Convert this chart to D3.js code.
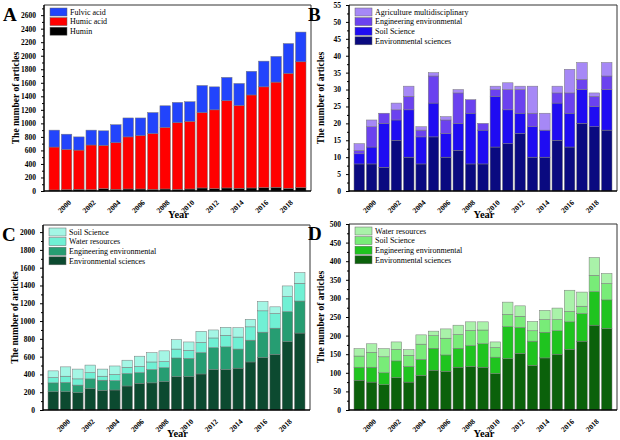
<!DOCTYPE html>
<html>
<head>
<meta charset="utf-8">
<script src="https://cdn.jsdelivr.net/npm/d3@7/dist/d3.min.js"></script>
<style>
body { margin: 0; background: #fff; }
svg { display: block; }
text { font-family: "Liberation Serif", "Times New Roman", serif; }
</style>
</head>
<body>
<svg width="620" height="440"></svg>
<script>
// years on the x axis, every other one labelled
var years = [1999, 2000, 2001, 2002, 2003, 2004, 2005, 2006, 2007, 2008, 2009,
             2010, 2011, 2012, 2013, 2014, 2015, 2016, 2017, 2018, 2019];
var yearLabels = [2000, 2002, 2004, 2006, 2008, 2010, 2012, 2014, 2016, 2018];

// A - humic substances
var huminA  = [15, 20, 25, 20, 35, 25, 30, 30, 25, 30, 25, 30, 45, 35, 45, 40, 45, 50, 55, 40, 50];
var humicA  = [635, 595, 580, 660, 640, 690, 770, 790, 825, 910, 985, 1000, 1115, 1165, 1290, 1225, 1375, 1490, 1555, 1700, 1860];
var fulvicA = [250, 225, 195, 220, 215, 265, 280, 260, 310, 320, 300, 290, 400, 340, 345, 325, 350, 380, 380, 440, 440];

// B
var envB  = [8, 8, 7, 15, 10, 8, 16, 10, 12, 8, 8, 13, 14, 17, 10, 10, 15, 13, 20, 19, 18];
var soilB = [3, 5, 13, 6, 14, 8, 10, 7, 8, 15, 10, 15, 10, 6, 9, 8, 11, 10, 10, 6, 12];
var engB  = [1, 6, 3, 3, 4, 2, 8, 4, 9, 4, 2, 2, 6, 7, 4, 0, 3, 6, 3, 3, 4];
var agriB = [2, 2, 0, 2, 3, 1, 1, 1, 1, 0, 0, 1, 2, 1, 8, 5, 2, 7, 5, 1, 4];

// C
var envC   = [205, 205, 195, 240, 220, 225, 270, 300, 305, 320, 375, 375, 405, 455, 455, 470, 540, 590, 625, 770, 865];
var engC   = [100, 105, 85, 110, 115, 105, 140, 120, 150, 155, 210, 205, 240, 245, 255, 215, 245, 285, 295, 335, 360];
var waterC = [60, 70, 70, 70, 45, 70, 70, 70, 85, 70, 100, 90, 115, 110, 130, 135, 150, 240, 165, 170, 200];
var soilC  = [75, 105, 110, 85, 80, 95, 80, 115, 105, 120, 105, 95, 125, 90, 90, 105, 85, 105, 75, 120, 120];

// D
var envD   = [80, 75, 68, 87, 75, 93, 107, 104, 115, 117, 115, 98, 138, 152, 120, 140, 150, 163, 185, 228, 219];
var engD   = [35, 40, 32, 45, 42, 43, 59, 44, 51, 56, 63, 44, 86, 70, 65, 69, 63, 74, 74, 90, 77];
var soilD  = [30, 40, 43, 31, 30, 41, 34, 45, 37, 41, 37, 26, 33, 30, 28, 34, 30, 28, 20, 44, 44];
var waterD = [20, 23, 22, 20, 15, 25, 12, 25, 25, 23, 22, 15, 33, 28, 25, 25, 31, 57, 38, 48, 27];

var svg = d3.select("svg");

function drawPanel(p) {
    var g = svg.append("g");

    var x = d3.scaleBand()
        .domain(years)
        .range([p.x0 + 5, p.x1 - 5])
        .paddingInner(0.15);

    var y = d3.scaleLinear()
        .domain([0, p.max])
        .range([p.y1, p.y0]);

    var keys = p.series.map(s => s.name);
    var rows = years.map(function (yr, i) {
        var r = { year: yr };
        p.series.forEach(s => r[s.name] = s.values[i]);
        return r;
    });
    var stacked = d3.stack().keys(keys)(rows);

    g.selectAll(".layer")
        .data(stacked)
        .enter().append("g")
        .attr("fill", (d, i) => p.series[i].color)
      .selectAll("rect")
        .data(d => d)
        .enter().append("rect")
        .attr("x", d => x(d.data.year))
        .attr("y", d => y(d[1]))
        .attr("width", x.bandwidth())
        .attr("height", d => y(d[0]) - y(d[1]))
        .attr("stroke", "#777")
        .attr("stroke-width", 0.5);

    // frame top/right
    g.append("path")
        .attr("d", "M" + p.x0 + "," + p.y0 + "H" + p.x1 + "V" + p.y1)
        .attr("fill", "none")
        .attr("stroke", "#333")
        .attr("stroke-width", 1);

    // y axis, major + minor ticks
    var major = d3.range(0, p.max + 0.001, p.step);
    var minor = d3.range(p.step / 2, p.max, p.step);

    var ax = g.append("g")
        .attr("transform", "translate(" + p.x0 + ",0)")
        .call(d3.axisLeft(y).tickValues(major).tickFormat(d3.format("d"))
            .tickSize(3).tickPadding(5).tickSizeOuter(0));
    ax.select(".domain").remove();
    ax.selectAll("text")
        .attr("font-family", "Liberation Serif, serif")
        .attr("font-weight", "bold")
        .attr("font-size", 7.5)
        .attr("fill", "#000");
    ax.selectAll("line").attr("stroke-width", 1);

    g.append("g")
        .attr("transform", "translate(" + p.x0 + ",0)")
        .call(d3.axisLeft(y).tickValues(minor).tickSize(2).tickFormat(""))
        .select(".domain").remove();

    g.append("line")
        .attr("x1", p.x0).attr("x2", p.x0)
        .attr("y1", p.y0).attr("y2", p.y1 + 0.75)
        .attr("stroke", "#000").attr("stroke-width", 1.5);
    g.append("line")
        .attr("x1", p.x0).attr("x2", p.x1)
        .attr("y1", p.y1).attr("y2", p.y1)
        .attr("stroke", "#000").attr("stroke-width", 1.5);

    // rotated year labels
    g.selectAll(".xl")
        .data(yearLabels)
        .enter().append("text")
        .attr("class", "xl")
        .attr("transform", d => "translate(" + (x(d) + x.bandwidth() / 2 + 5) + "," + (p.y1 + 12) + ") rotate(-45)")
        .attr("text-anchor", "end")
        .attr("font-weight", "bold")
        .attr("font-size", 7.5)
        .text(d => d);

    // titles
    g.append("text")
        .attr("transform", "translate(" + (p.x0 - 25) + "," + ((p.y0 + p.y1) / 2) + ") rotate(-90)")
        .attr("text-anchor", "middle")
        .attr("font-weight", "bold")
        .attr("font-size", 9.5)
        .text("The number of articles");

    g.append("text")
        .attr("x", (p.x0 + p.x1) / 2 + 1)
        .attr("y", p.y1 + 27)
        .attr("text-anchor", "middle")
        .attr("font-weight", "bold")
        .attr("font-size", 10.5)
        .text("Year");

    g.append("text")
        .attr("x", p.x0 - 41)
        .attr("y", p.y0 + 16)
        .attr("font-weight", "bold")
        .attr("font-size", 19)
        .text(p.letter);

    // legend, top series first
    var leg = p.series.slice().reverse();
    var lg = g.selectAll(".leg")
        .data(leg)
        .enter().append("g")
        .attr("transform", (d, i) => "translate(" + (p.x0 + 6) + "," + (p.y0 + 3 + i * 9.6) + ")");
    lg.append("rect")
        .attr("width", 17)
        .attr("height", 8)
        .attr("fill", d => d.color)
        .attr("stroke", "#666")
        .attr("stroke-width", 0.5);
    lg.append("text")
        .attr("x", 20)
        .attr("y", 6.8)
        .attr("font-size", 8)
        .text(d => d.name);
}

drawPanel({
    letter: "A", x0: 44, x1: 311, y0: 5, y1: 191, max: 2750, step: 200,
    series: [
        { name: "Humin", values: huminA, color: "#000000" },
        { name: "Humic acid", values: humicA, color: "#ff0000" },
        { name: "Fulvic acid", values: fulvicA, color: "#2244fc" }
    ]
});

drawPanel({
    letter: "B", x0: 349, x1: 617, y0: 5, y1: 191, max: 55, step: 5,
    series: [
        { name: "Environmental sciences", values: envB, color: "#0a0a80" },
        { name: "Soil Science", values: soilB, color: "#1f0cf2" },
        { name: "Engineering environmental", values: engB, color: "#6b42ef" },
        { name: "Agriculture multidisciplinary", values: agriB, color: "#a688f6" }
    ]
});

drawPanel({
    letter: "C", x0: 43, x1: 310, y0: 225, y1: 410, max: 2080, step: 200,
    series: [
        { name: "Environmental sciences", values: envC, color: "#0c4a30" },
        { name: "Engineering environmental", values: engC, color: "#269d72" },
        { name: "Water resources", values: waterC, color: "#70f0d4" },
        { name: "Soil Science", values: soilC, color: "#a4f6e5" }
    ]
});

drawPanel({
    letter: "D", x0: 349, x1: 617, y0: 224, y1: 410, max: 500, step: 50,
    series: [
        { name: "Environmental sciences", values: envD, color: "#0b610b" },
        { name: "Engineering environmental", values: engD, color: "#1fc41f" },
        { name: "Soil Science", values: soilD, color: "#78ec78" },
        { name: "Water resources", values: waterD, color: "#a9f2a9" }
    ]
});
</script>
</body>
</html>
